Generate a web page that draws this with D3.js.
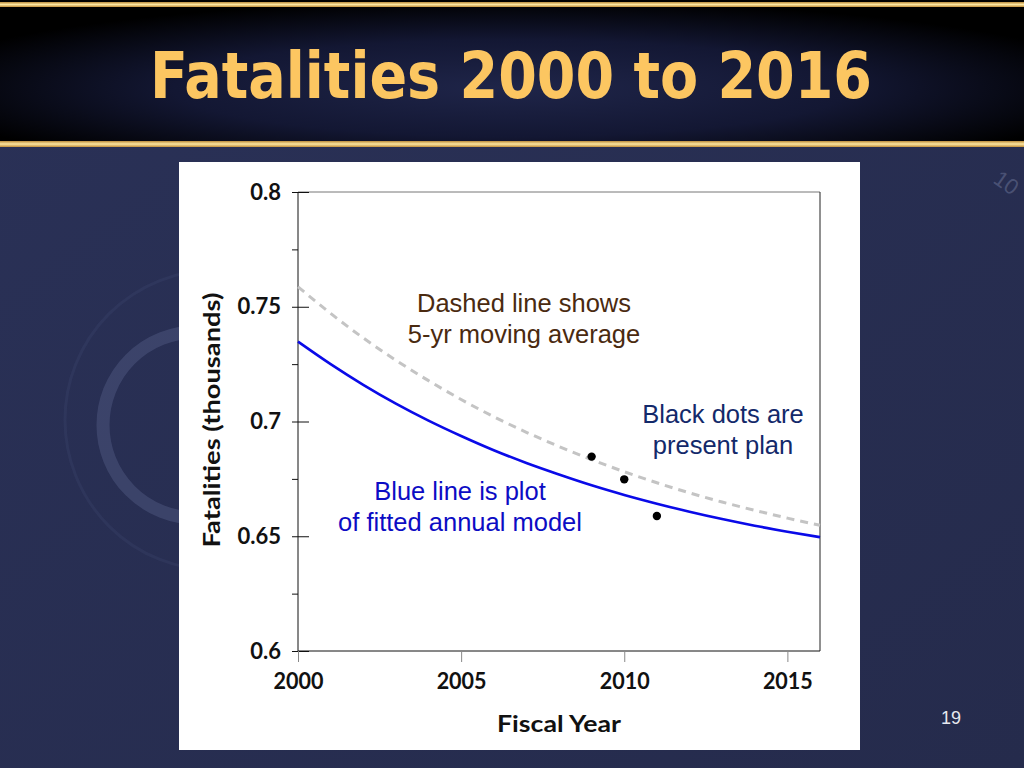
<!DOCTYPE html>
<html><head><meta charset="utf-8">
<script src="https://cdn.jsdelivr.net/npm/d3@7"></script>
<style>html,body{margin:0;padding:0;background:#262c4f;overflow:hidden}</style>
</head><body>
<svg id="c" width="1024" height="768"></svg>
<script>
// ---- data ----
const years = [2000,2001,2002,2003,2004,2005,2006,2007,2008,2009,2010,2011,2012,2013,2014,2015,2016];
const fittedModel = [0.7348,0.7250,0.7160,0.7078,0.7004,0.6937,0.6875,0.6819,0.6769,0.6722,0.6680,0.6642,0.6607,0.6575,0.6546,0.6520,0.6496];
const movingAvg5yr = [0.7587,0.7471,0.7364,0.7267,0.7178,0.7096,0.7021,0.6953,0.6891,0.6834,0.6781,0.6733,0.6689,0.6649,0.6613,0.6579,0.6548];
const planYears = [2009,2010,2011];
const planValues = [0.6847,0.6748,0.6588];
const yMajorTicks = [0.6,0.65,0.7,0.75,0.8];
const yMajorLabels = ["0.6","0.65","0.7","0.75","0.8"];
const yMinorTicks = [0.625,0.675,0.725,0.775];
const xTicks = [2000,2005,2010,2015];
const xTickLabels = ["2000","2005","2010","2015"];

const svg = d3.select("#c");
const defs = svg.append("defs");

// background
const bg = defs.append("linearGradient").attr("id","bg").attr("x1","0").attr("y1","0").attr("x2","1").attr("y2","1");
bg.append("stop").attr("offset","0").attr("stop-color","#2a3157");
bg.append("stop").attr("offset","1").attr("stop-color","#252b4c");
svg.append("rect").attr("width",1024).attr("height",768).attr("fill","url(#bg)");

// faint decorative ring
svg.append("circle").attr("cx",196).attr("cy",425).attr("r",93)
  .attr("fill","none").attr("stroke","rgba(110,122,165,0.28)").attr("stroke-width",13);
svg.append("circle").attr("cx",215).attr("cy",420).attr("r",150)
  .attr("fill","none").attr("stroke","rgba(110,122,165,0.10)").attr("stroke-width",3);
svg.append("text").attr("x",992).attr("y",182).attr("transform","rotate(35,992,182)")
  .attr("font-family","Liberation Sans, Arial").attr("font-size",22).attr("fill","rgba(130,140,175,0.4)").text("10");

// header band
const hg = defs.append("radialGradient").attr("id","hg").attr("cx","0.5").attr("cy","0.6").attr("r","0.6");
hg.append("stop").attr("offset","0").attr("stop-color","#1f2549");
hg.append("stop").attr("offset","0.55").attr("stop-color","#131733");
hg.append("stop").attr("offset","1").attr("stop-color","#000000");
svg.append("rect").attr("x",0).attr("y",0).attr("width",1024).attr("height",147).attr("fill","url(#hg)");

const gg = defs.append("linearGradient").attr("id","gold").attr("x1","0").attr("y1","0").attr("x2","0").attr("y2","1");
gg.append("stop").attr("offset","0").attr("stop-color","#b8893a");
gg.append("stop").attr("offset","0.5").attr("stop-color","#fde6a0");
gg.append("stop").attr("offset","1").attr("stop-color","#c08f3c");
svg.append("rect").attr("x",0).attr("y",2).attr("width",1024).attr("height",5).attr("fill","url(#gold)");
svg.append("rect").attr("x",0).attr("y",141).attr("width",1024).attr("height",6).attr("fill","url(#gold)");

svg.append("text").attr("x",511).attr("y",98).attr("text-anchor","middle")
  .attr("font-family","DejaVu Sans Condensed, DejaVu Sans").attr("font-weight","bold")
  .attr("font-size",64).attr("fill","#fcc661")
  .attr("textLength",722).attr("lengthAdjust","spacingAndGlyphs")
  .text("Fatalities 2000 to 2016");

// page number
svg.append("text").attr("x",951).attr("y",724).attr("text-anchor","middle")
  .attr("font-family","Liberation Sans, Arial").attr("font-size",18).attr("fill","#e6e8ef").text("19");

// white chart panel
svg.append("rect").attr("x",179).attr("y",162).attr("width",681).attr("height",588).attr("fill","#ffffff");

// scales
const x = d3.scaleLinear().domain([2000,2016]).range([298,820]);
const y = d3.scaleLinear().domain([0.6,0.8]).range([651,192]);

const lab = "Lato, Open Sans, sans-serif";

// frame
const g = svg.append("g");
g.append("line").attr("x1",x(2000)).attr("x2",x(2016)).attr("y1",y(0.8)).attr("y2",y(0.8)).attr("stroke","#777").attr("stroke-width",1);
g.append("line").attr("x1",x(2016)).attr("x2",x(2016)).attr("y1",y(0.8)).attr("y2",y(0.6)).attr("stroke","#222").attr("stroke-width",1);

// y axis (minor + major outer ticks)
const yAxis = d3.axisLeft(y).tickValues(yMajorTicks.concat(yMinorTicks)).tickSize(6)
  .tickFormat(d => { const i = yMajorTicks.indexOf(d); return i >= 0 ? yMajorLabels[i] : ""; }).tickPadding(11);
const ya = g.append("g").attr("transform",`translate(${x(2000)},0)`).call(yAxis);
ya.select(".domain").attr("stroke","#111").attr("d",`M0,${y(0.8)}V${y(0.6)}`);
ya.selectAll(".tick line").attr("stroke","#111");
ya.selectAll(".tick text").attr("font-family",lab).attr("font-weight","bold").attr("font-size",22).attr("fill","#111");
// major ticks extend into the plot
const yin = d3.axisRight(y).tickValues(yMajorTicks).tickSize(11).tickFormat("");
const yi = g.append("g").attr("transform",`translate(${x(2000)},0)`).call(yin);
yi.select(".domain").remove();
yi.selectAll(".tick line").attr("stroke","#111");

// x axis
const xAxis = d3.axisBottom(x).tickValues(xTicks).tickSize(11).tickPadding(11)
  .tickFormat((d,i) => xTickLabels[i]);
const xa = g.append("g").attr("transform",`translate(0,${y(0.6)})`).call(xAxis);
xa.select(".domain").attr("stroke","#111").attr("d",`M${x(2000)},0H${x(2016)}`);
xa.selectAll(".tick line").attr("stroke","#888");
xa.selectAll(".tick text").attr("font-family",lab).attr("font-weight","bold").attr("font-size",22).attr("fill","#111")
  .attr("textLength",50).attr("lengthAdjust","spacingAndGlyphs");

// axis titles
svg.append("text").attr("x",559).attr("y",732).attr("text-anchor","middle")
  .attr("font-family",lab).attr("font-weight","bold").attr("font-size",23).attr("fill","#111")
  .attr("textLength",124).attr("lengthAdjust","spacingAndGlyphs").text("Fiscal Year");
svg.append("text").attr("transform","translate(220,420) rotate(-90)").attr("text-anchor","middle")
  .attr("font-family",lab).attr("font-weight","bold").attr("font-size",23).attr("fill","#111")
  .attr("textLength",255).attr("lengthAdjust","spacingAndGlyphs").text("Fatalities (thousands)");

// lines
const line = d3.line().x((d,i) => x(years[i])).y(d => y(d)).curve(d3.curveMonotoneX);
g.append("path").datum(movingAvg5yr).attr("d",line).attr("fill","none")
  .attr("stroke","#c4c4c4").attr("stroke-width",3).attr("stroke-dasharray","8,6");
g.append("path").datum(fittedModel).attr("d",line).attr("fill","none")
  .attr("stroke","#0a0ae8").attr("stroke-width",2.6);

// dots
g.selectAll("circle.plan").data(planValues).enter().append("circle").attr("class","plan")
  .attr("cx",(d,i) => x(planYears[i])).attr("cy",d => y(d)).attr("r",4.2).attr("fill","#000");

// annotations
const ann = (lines, cx, y0, color) => {
  lines.forEach((t,i) => svg.append("text").attr("x",cx).attr("y",y0 + i*31).attr("text-anchor","middle")
    .attr("font-family","Liberation Sans, Arial").attr("font-size",25.5).attr("fill",color).text(t));
};
ann(["Dashed line shows","5-yr moving average"], 524, 312, "#4a2a10");
ann(["Black dots are","present plan"], 723, 423, "#13296a");
ann(["Blue line is plot","of fitted annual model"], 460, 500, "#0c0cc4");
</script>
</body></html>
